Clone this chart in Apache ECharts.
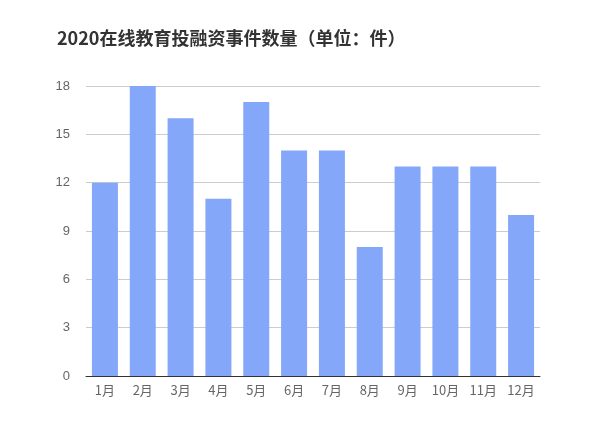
<!DOCTYPE html>
<html>
<head>
<meta charset="utf-8">
<script src="https://cdn.jsdelivr.net/npm/echarts@6/dist/echarts.min.js"></script>
<style>html,body{margin:0;padding:0;background:#fff}#chart{width:600px;height:443px}</style>
</head>
<body>
<div id="chart"></div>
<script>
var months = ['1月', '2月', '3月', '4月', '5月', '6月', '7月', '8月', '9月', '10月', '11月', '12月'];
var counts = [12, 18, 16, 11, 17, 14, 14, 8, 13, 13, 13, 10];

var chart = echarts.init(document.getElementById('chart'));
chart.setOption({
    animation: false,
    title: {
        text: '2020在线教育投融资事件数量（单位：件）',
        left: 52,
        top: 24,
        textStyle: { fontSize: 18, fontWeight: 'bold', color: '#333', fontFamily: 'Noto Sans CJK SC' }
    },
    grid: { left: 86, right: 60, top: 86, bottom: 67 },
    xAxis: {
        type: 'category',
        data: months,
        axisTick: { show: false },
        axisLine: { lineStyle: { color: '#333' } },
        axisLabel: { color: '#666', fontSize: 13, fontFamily: 'Noto Sans CJK SC' }
    },
    yAxis: {
        type: 'value',
        min: 0,
        max: 18,
        interval: 3,
        axisLabel: { color: '#666', fontSize: 13, margin: 16 },
        splitLine: { lineStyle: { color: '#ccc' } }
    },
    series: [{
        type: 'bar',
        data: counts,
        barWidth: 26,
        itemStyle: { color: '#84A7FA' }
    }]
});
</script>
</body>
</html>
